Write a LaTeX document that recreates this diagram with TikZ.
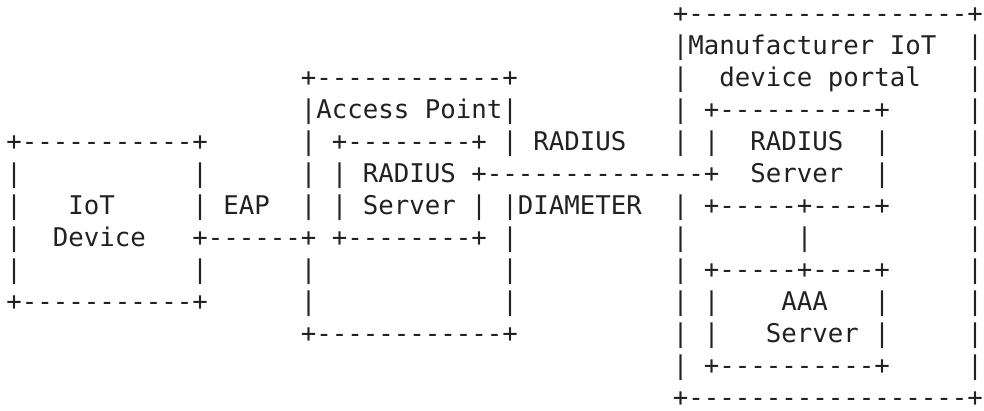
\documentclass[tikz,border=0pt]{standalone}
\usepackage{fontspec}
\setmonofont{DejaVu Sans Mono}
\definecolor{ink}{rgb}{0.13,0.13,0.13}
\newcommand\colw{15.5}
\newcommand\rowh{32.0}
% fragment: name, column, row, text
\newcommand\frag[4]{\node[asc] (#1) at ({6.25+\colw*#2},{-(22.6+\rowh*#3)}) {#4};}
\begin{document}
\begin{tikzpicture}[x=1pt,y=1pt,
  asc/.style={anchor=base west,inner sep=0pt,outer sep=0pt,text=ink,
    font=\ttfamily\fontsize{25.75pt}{30pt}\selectfont}]
\useasboundingbox (0,0) rectangle (984,-411);
% row 0
\frag{portalTop}{43}{0}{+------------------+}
% row 1
\frag{portalL1}{43}{1}{|Manufacturer~IoT}
\frag{portalR1}{62}{1}{|}
% row 2
\frag{apTop}{19}{2}{+------------+}
\frag{portalL2}{43}{2}{|}
\frag{portalName}{46}{2}{device~portal}
\frag{portalR2}{62}{2}{|}
% row 3
\frag{apName}{19}{3}{|Access~Point|}
\frag{portalL3}{43}{3}{|}
\frag{rsTop}{45}{3}{+----------+}
\frag{portalR3}{62}{3}{|}
% row 4
\frag{iotTop}{0}{4}{+-----------+}
\frag{apL4}{19}{4}{|}
\frag{arsTop}{21}{4}{+--------+}
\frag{apR4}{32}{4}{|}
\frag{radiusLbl}{34}{4}{RADIUS}
\frag{portalL4}{43}{4}{|}
\frag{rsL4}{45}{4}{|}
\frag{rsName1}{48}{4}{RADIUS}
\frag{rsR4}{56}{4}{|}
\frag{portalR4}{62}{4}{|}
% row 5
\frag{iotL5}{0}{5}{|}
\frag{iotR5}{12}{5}{|}
\frag{apL5}{19}{5}{|}
\frag{arsL5}{21}{5}{|}
\frag{arsName1}{23}{5}{RADIUS}
\frag{radiusLink}{30}{5}{+--------------+}
\frag{rsName2}{48}{5}{Server}
\frag{rsR5}{56}{5}{|}
\frag{portalR5}{62}{5}{|}
% row 6
\frag{iotL6}{0}{6}{|}
\frag{iotName1}{4}{6}{IoT}
\frag{iotR6}{12}{6}{|}
\frag{eapLbl}{14}{6}{EAP}
\frag{apL6}{19}{6}{|}
\frag{arsL6}{21}{6}{|}
\frag{arsName2}{23}{6}{Server}
\frag{arsR6}{30}{6}{|}
\frag{diameterLbl}{32}{6}{|DIAMETER}
\frag{portalL6}{43}{6}{|}
\frag{rsBot}{45}{6}{+-----+----+}
\frag{portalR6}{62}{6}{|}
% row 7
\frag{iotL7}{0}{7}{|}
\frag{iotName2}{3}{7}{Device}
\frag{eapLink}{12}{7}{+------+}
\frag{arsBot}{21}{7}{+--------+}
\frag{apR7}{32}{7}{|}
\frag{portalL7}{43}{7}{|}
\frag{aaaLink}{51}{7}{|}
\frag{portalR7}{62}{7}{|}
% row 8
\frag{iotL8}{0}{8}{|}
\frag{iotR8}{12}{8}{|}
\frag{apL8}{19}{8}{|}
\frag{apR8}{32}{8}{|}
\frag{portalL8}{43}{8}{|}
\frag{aaaTop}{45}{8}{+-----+----+}
\frag{portalR8}{62}{8}{|}
% row 9
\frag{iotBot}{0}{9}{+-----------+}
\frag{apL9}{19}{9}{|}
\frag{apR9}{32}{9}{|}
\frag{portalL9}{43}{9}{|}
\frag{aaaL9}{45}{9}{|}
\frag{aaaName1}{50}{9}{AAA}
\frag{aaaR9}{56}{9}{|}
\frag{portalR9}{62}{9}{|}
% row 10
\frag{apBot}{19}{10}{+------------+}
\frag{portalL10}{43}{10}{|}
\frag{aaaL10}{45}{10}{|}
\frag{aaaName2}{49}{10}{Server}
\frag{aaaR10}{56}{10}{|}
\frag{portalR10}{62}{10}{|}
% row 11
\frag{portalL11}{43}{11}{|}
\frag{aaaBot}{45}{11}{+----------+}
\frag{portalR11}{62}{11}{|}
% row 12
\frag{portalBot}{43}{12}{+------------------+}
\end{tikzpicture}
\end{document}
